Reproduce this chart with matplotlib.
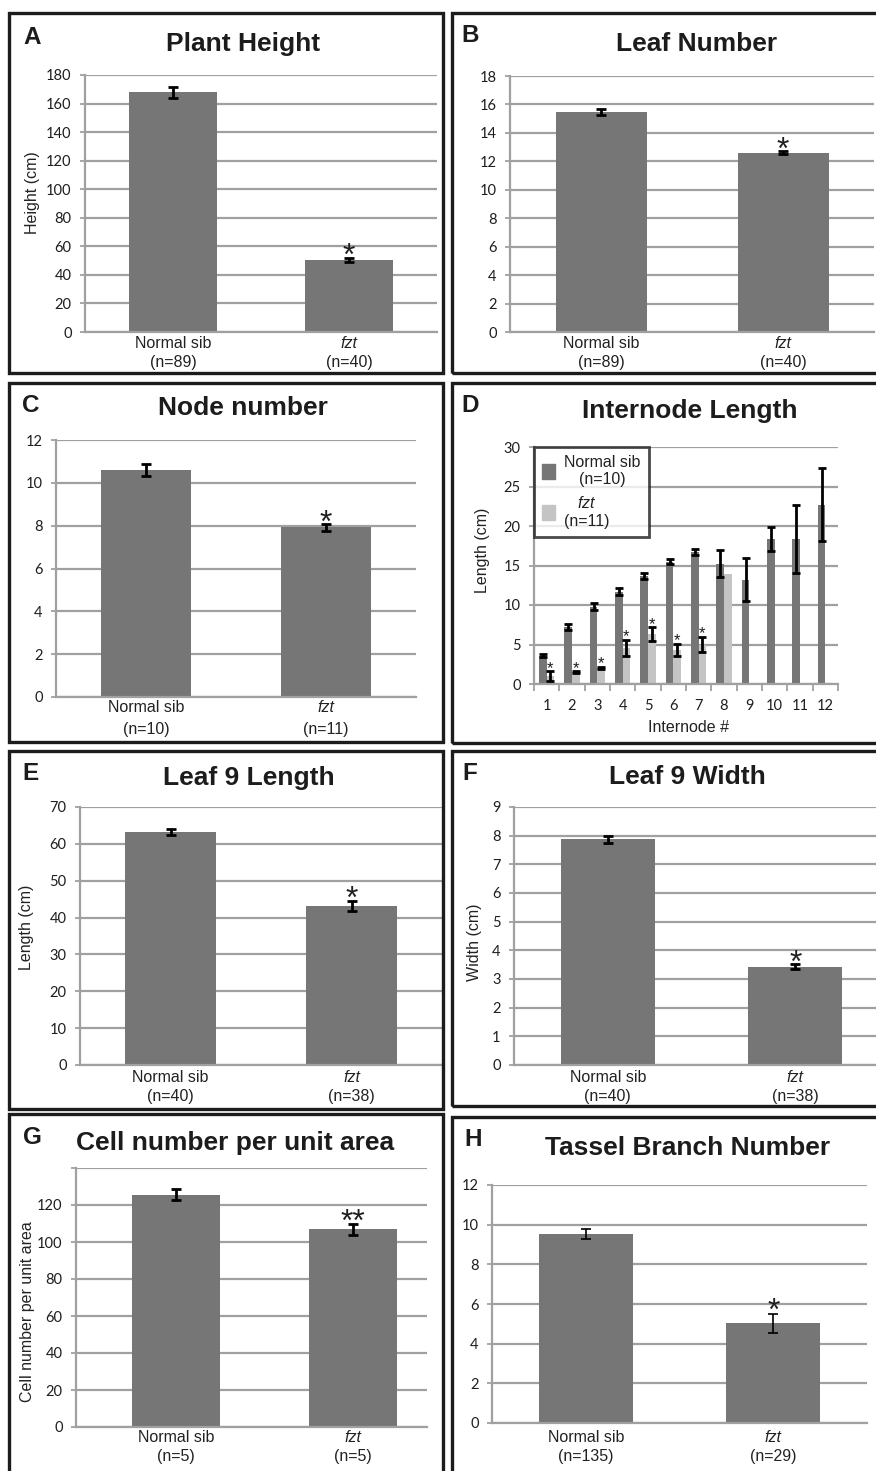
import numpy as np
import matplotlib
matplotlib.use("Agg")
import matplotlib.pyplot as plt
from matplotlib.patches import Rectangle, Patch
from matplotlib.transforms import blended_transform_factory

plt.rcParams['font.family'] = ['Liberation Sans', 'DejaVu Sans']
plt.rcParams['mathtext.fontset'] = 'custom'
plt.rcParams['mathtext.it'] = 'Liberation Sans:italic'
plt.rcParams['mathtext.rm'] = 'Liberation Sans'

# ---- data ----
groups = ['Normal sib', 'fzt']

height_mean = [168.0, 50.5]      # A  Plant height (cm)
height_err = [3.8, 1.5]
height_n = [89, 40]

leaf_mean = [15.45, 12.6]        # B  Leaf number
leaf_err = [0.2, 0.1]
leaf_n = [89, 40]

node_mean = [10.6, 7.92]         # C  Node number
node_err = [0.3, 0.15]
node_n = [10, 11]

internode = list(range(1, 13))   # D  Internode length (cm)
normal_len = [3.6, 7.2, 9.8, 11.7, 13.7, 15.5, 16.7, 15.2, 13.2, 18.35, 18.3, 22.7]
normal_len_err = [0.2, 0.4, 0.4, 0.4, 0.4, 0.3, 0.4, 1.7, 2.7, 1.5, 4.3, 4.6]
fzt_len = [1.0, 1.5, 2.0, 4.6, 6.3, 4.35, 5.0, 13.9, 0, 0, 0, 0]
fzt_len_err = [0.6, 0.1, 0.15, 1.0, 0.9, 0.75, 0.95, 0, 0, 0, 0, 0]
fzt_len_sig = [1, 2, 3, 4, 5, 6, 7]
internode_n = [10, 11]

leaf9_len_mean = [63.2, 43.2]    # E  Leaf 9 length (cm)
leaf9_len_err = [0.7, 1.3]
leaf9_n = [40, 38]

leaf9_wid_mean = [7.88, 3.43]    # F  Leaf 9 width (cm)
leaf9_wid_err = [0.12, 0.08]

cell_mean = [125.5, 107.0]       # G  Cell number per unit area
cell_err = [3.0, 3.0]
cell_n = [5, 5]

tassel_mean = [9.52, 5.02]       # H  Tassel branch number
tassel_err = [0.25, 0.5]
tassel_n = [135, 29]

# ---- figure ----
W, H = 876, 1471
fig = plt.figure(figsize=(W / 100, H / 100), dpi=100)

GRID = '#a0a0a0'
BAR = '#767676'
LIGHT = '#c4c4c4'
TICKFONT = 'Lato'


def box(l, r, t, b):
    return [l / W, 1 - b / H, (r - l) / W, (b - t) / H]


def ftext(x, y, s, **kw):
    fig.text(x / W, 1 - y / H, s, **kw)


def style_axes(ax, ylim, step, hide_top=False):
    ax.set_ylim(*ylim)
    ticks = np.arange(ylim[0], ylim[1] + step / 2, step)
    ax.set_yticks(ticks)
    labels = ['%g' % t for t in ticks]
    if hide_top:
        labels[-1] = ''
    ax.set_yticklabels(labels, fontfamily=TICKFONT, fontsize=10.5, color='#1e1e1e')
    ax.grid(axis='y', color=GRID, lw=1.6)
    ax.set_axisbelow(True)
    for s in ['top', 'right']:
        ax.spines[s].set_visible(False)
    for s in ['left', 'bottom']:
        ax.spines[s].set_color(GRID)
        ax.spines[s].set_linewidth(1.6)
    ax.tick_params(axis='y', length=3.6, width=1.3, color=GRID, pad=6)


def star(ax, x, top, text='*', size=23, gap_px=11):
    ax.annotate(text, (x, top), xytext=(0, gap_px * 0.72 - 0.575 * size),
                textcoords='offset points', ha='center', va='baseline',
                fontsize=size, color='#1e1e1e')


def bar_panel(px, ylim, step, means, errs, ns, label_y, xlim=(-0.5, 1.5),
              hide_top=False, err_lw=2.0):
    ax = fig.add_axes(box(*px))
    x = np.arange(len(groups))
    ax.bar(x, means, width=0.5, color=BAR, zorder=2)
    ax.errorbar(x, means, yerr=errs, fmt='none', ecolor='black',
                elinewidth=err_lw, capsize=3.6, capthick=err_lw, zorder=3)
    ax.set_xlim(*xlim)
    ax.set_xticks([])
    style_axes(ax, ylim, step, hide_top)
    tr = blended_transform_factory(ax.transData, fig.transFigure)
    for i, g in enumerate(groups):
        ax.text(i, 1 - label_y[0] / H, g, transform=tr, ha='center', va='center',
                fontsize=11.5, style='italic' if g == 'fzt' else 'normal',
                color='#222222')
        ax.text(i, 1 - label_y[1] / H, '(n=%d)' % ns[i], transform=tr,
                ha='center', va='center', fontsize=11.5, color='#222222')
    return ax


# panel frames
frames = [(9, 13, 443, 373), (452, 13, 890, 373),
          (9, 383, 443, 742), (452, 383, 890, 743),
          (9, 751, 443, 1109), (452, 751, 890, 1106),
          (9, 1114, 443, 1490), (452, 1117, 890, 1490)]
for x0, y0, x1, y1 in frames:
    fig.add_artist(Rectangle((x0 / W, 1 - y1 / H), (x1 - x0) / W, (y1 - y0) / H,
                             transform=fig.transFigure, fill=False,
                             lw=2.4, ec='#1c1c1c'))

letters = [('A', 32, 37), ('B', 470, 36), ('C', 31, 406), ('D', 470, 406),
           ('E', 31, 773), ('F', 470, 773), ('G', 32, 1138), ('H', 473, 1139)]
for s, x, y in letters:
    ftext(x, y, s, fontsize=17.5, weight='bold', ha='center', va='center',
          color='#1c1c1c')

titles = [('Plant Height', 243, 44), ('Leaf Number', 697, 44),
          ('Node number', 243, 408), ('Internode Length', 690, 411),
          ('Leaf 9 Length', 249, 778), ('Leaf 9 Width', 687, 777),
          ('Cell number per unit area', 235, 1143),
          ('Tassel Branch Number', 688, 1148)]
for s, x, y in titles:
    ftext(x, y, s, fontsize=19, weight='bold', ha='center', va='center',
          color='#1c1c1c')

ylabels = [('Height (cm)', 32, 193), ('Length (cm)', 483, 550),
           ('Length (cm)', 27, 927), ('Width (cm)', 475, 942),
           ('Cell number per unit area', 28, 1312)]
for s, x, y in ylabels:
    ftext(x, y, s, fontsize=11.5, rotation=90, ha='center', va='center',
          color='#222222')

# A
ax = bar_panel((85, 437, 75, 332), (0, 180), 20, height_mean, height_err,
               height_n, (343, 363))
star(ax, 1, height_mean[1] + height_err[1])

# B
ax = bar_panel((510, 874, 76, 332), (0, 18), 2, leaf_mean, leaf_err,
               leaf_n, (343, 363))
star(ax, 1, leaf_mean[1] + leaf_err[1])

# C
ax = bar_panel((56, 416, 440, 697), (0, 12), 2, node_mean, node_err,
               node_n, (708, 729))
star(ax, 1, node_mean[1] + node_err[1])

# E
ax = bar_panel((80, 442, 807, 1065), (0, 70), 10, leaf9_len_mean, leaf9_len_err,
               leaf9_n, (1077, 1097))
star(ax, 1, leaf9_len_mean[1] + leaf9_len_err[1])

# F
ax = bar_panel((514, 889, 807, 1065), (0, 9), 1, leaf9_wid_mean, leaf9_wid_err,
               leaf9_n, (1077, 1097))
star(ax, 1, leaf9_wid_mean[1] + leaf9_wid_err[1])

# G
ax = bar_panel((76, 427, 1168, 1427), (0, 140), 20, cell_mean, cell_err,
               cell_n, (1438, 1457), xlim=(-0.565, 1.418), hide_top=True)
star(ax, 1, cell_mean[1] + cell_err[1], text='**')

# H
ax = bar_panel((492, 867, 1185, 1423), (0, 12), 2, tassel_mean, tassel_err,
               tassel_n, (1438, 1457), err_lw=1.2)
star(ax, 1, tassel_mean[1] + tassel_err[1], gap_px=12)

# D  internode length
ax = fig.add_axes(box(534, 838, 447, 684))
xi = np.array(internode)
off, bw = 0.15, 0.3
ax.bar(xi - off, normal_len, width=bw, color=BAR, zorder=2)
ax.bar(xi + off, fzt_len, width=bw, color=LIGHT, zorder=2)
ax.errorbar(xi - off, normal_len, yerr=normal_len_err, fmt='none',
            ecolor='black', elinewidth=2, capsize=3.2, capthick=2, zorder=3)
fz_x = [i + off for i, e in zip(internode, fzt_len_err) if e > 0]
fz_v = [v for v, e in zip(fzt_len, fzt_len_err) if e > 0]
fz_e = [e for e in fzt_len_err if e > 0]
ax.errorbar(fz_x, fz_v, yerr=fz_e, fmt='none', ecolor='black',
            elinewidth=2, capsize=3.2, capthick=2, zorder=3)
for k in fzt_len_sig:
    star(ax, k + off, fzt_len[k - 1] + fzt_len_err[k - 1], size=12, gap_px=8)
ax.set_xlim(0.5, 12.5)
ax.set_xticks(xi)
ax.set_xticklabels([str(i) for i in internode], fontfamily=TICKFONT,
                   fontsize=10.5, color='#1e1e1e')
ax.set_xticks(np.arange(0.5, 13, 1), minor=True)
ax.tick_params(axis='x', which='major', length=0, pad=11)
ax.tick_params(axis='x', which='minor', length=5, width=1.3, color=GRID)
style_axes(ax, (0, 30), 5)
ftext(689, 727, 'Internode #', fontsize=11.5, ha='center', va='center',
      color='#222222')
leg = ax.legend([Patch(color=BAR), Patch(color=LIGHT)],
                ['Normal sib\n(n=%d)' % internode_n[0],
                 '$\\it{fzt}$\n(n=%d)' % internode_n[1]],
                loc='upper left', bbox_to_anchor=(0, 1), borderaxespad=0,
                fontsize=11.5, frameon=True, fancybox=False,
                handlelength=0.8, handleheight=1.1, handletextpad=0.6,
                labelspacing=0.5, borderpad=0.5)
leg.get_frame().set_edgecolor('#1c1c1c')
leg.get_frame().set_linewidth(2)
for t in leg.get_texts():
    t.set_multialignment('center')
    t.set_color('#222222')

fig.savefig('out.png', dpi=100)
